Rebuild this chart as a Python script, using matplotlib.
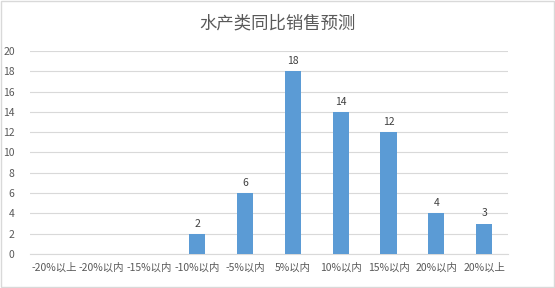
import matplotlib.pyplot as plt
from matplotlib.patches import Rectangle

plt.rcParams['font.family'] = ['Noto Sans CJK SC', 'DejaVu Sans']

# Data
categories = ["-20%以上", "-20%以内", "-15%以内", "-10%以内", "-5%以内",
              "5%以内", "10%以内", "15%以内", "20%以内", "20%以上"]
values = [0, 0, 0, 2, 6, 18, 14, 12, 4, 3]
yticks = list(range(0, 21, 2))

BAR_COLOR = "#5B9BD5"
TEXT_COLOR = "#595959"
GRID_COLOR = "#D9D9D9"

fig = plt.figure(figsize=(5.55, 2.88), dpi=100)
ax = fig.add_axes([30 / 555, 1 - 254 / 288, 478 / 555, 203 / 288])

x = range(len(categories))
bars = ax.bar(x, values, width=0.34, color=BAR_COLOR, zorder=3)

for xi, v in zip(x, values):
    if v > 0:
        ax.text(xi, v + 0.5, str(v), ha="center", va="bottom",
                fontsize=7.5, color="#404040")

ax.set_xlim(-0.5, len(categories) - 0.5)
ax.set_ylim(0, 20)
ax.set_yticks(yticks)
ax.set_xticks(list(x))
ax.set_xticklabels(categories)
ax.tick_params(axis="both", length=0, labelsize=7.5, colors=TEXT_COLOR)
ax.tick_params(axis="x", pad=6)
ax.tick_params(axis="y", pad=11)
ax.grid(axis="y", color=GRID_COLOR, linewidth=0.8, zorder=0)
for side in ["top", "right", "left"]:
    ax.spines[side].set_visible(False)
ax.spines["bottom"].set_color(GRID_COLOR)
ax.spines["bottom"].set_linewidth(0.8)

fig.text(0.5, 1 - 23 / 288, "水产类同比销售预测", ha="center", va="center",
         fontsize=12.5, color=TEXT_COLOR)

# outer border
fig.patches.append(Rectangle((0.002, 0.004), 0.996, 0.992, transform=fig.transFigure,
                             fill=False, edgecolor="#D9D9D9", linewidth=1))

fig.savefig("out.png", dpi=100)
